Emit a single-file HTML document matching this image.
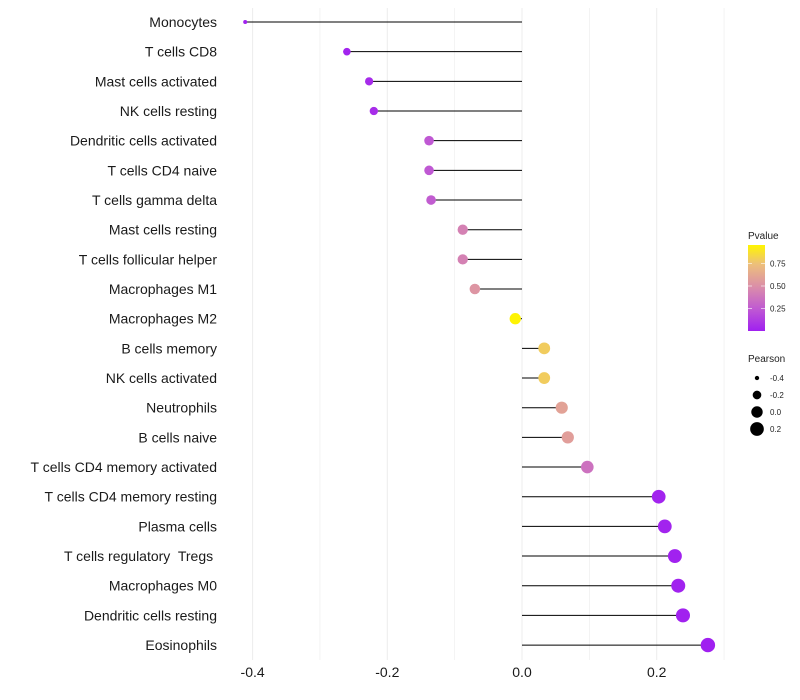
<!DOCTYPE html>
<html><head><meta charset="utf-8"><style>
body{margin:0;background:#fff;font-family:"Liberation Sans",sans-serif}
svg{display:block}
text{white-space:pre}
</style></head><body>
<svg id="chart" width="800" height="700" xmlns="http://www.w3.org/2000/svg">
<defs>
<linearGradient id="pg" x1="0" y1="1" x2="0" y2="0">
<stop offset="0" stop-color="#A020F0"/>
<stop offset="0.26" stop-color="#C05AD2"/>
<stop offset="0.52" stop-color="#DB8FA8"/>
<stop offset="0.78" stop-color="#EDC07A"/>
<stop offset="1" stop-color="#FFF500"/>
</linearGradient>
</defs>
<g id="grid"></g>
<g id="marks"></g>
<g id="labels"></g>
<g id="xticks"></g>
<g>
<text x="748" y="239" font-size="10" fill="#222">Pvalue</text>
<rect x="748" y="245" width="17" height="86" fill="url(#pg)"/>
<g id="cticks"></g>
</g>
<g id="sleg">
<text x="748" y="362" font-size="10" fill="#222">Pearson</text>
</g>
</svg>
<script>
const cells=["Monocytes","T cells CD8","Mast cells activated","NK cells resting","Dendritic cells activated","T cells CD4 naive","T cells gamma delta","Mast cells resting","T cells follicular helper","Macrophages M1","Macrophages M2","B cells memory","NK cells activated","Neutrophils","B cells naive","T cells CD4 memory activated","T cells CD4 memory resting","Plasma cells","T cells regulatory  Tregs ","Macrophages M0","Dendritic cells resting","Eosinophils"];
const pearson=[-0.411,-0.26,-0.227,-0.22,-0.138,-0.138,-0.135,-0.088,-0.088,-0.07,-0.01,0.033,0.033,0.059,0.068,0.097,0.203,0.212,0.227,0.232,0.239,0.276];
const pvalue=[0.01,0.02,0.05,0.06,0.25,0.25,0.27,0.45,0.45,0.55,0.95,0.82,0.82,0.62,0.6,0.38,0.02,0.02,0.01,0.01,0.01,0.0];
const xTicks=[-0.4,-0.2,0.0,0.2];
const cTicks=[0.25,0.5,0.75];
const sTicks=[-0.4,-0.2,0.0,0.2];
const NS="http://www.w3.org/2000/svg";
const X=v=>522+v*673.5;
const Y=i=>22+i*29.67;
const CY=p=>331-p*90;
function R(v){const t=(v+0.411)/0.687;return Math.sqrt(4+t*(52-4));}
const stops=[[0,[160,32,240]],[0.26,[192,90,210]],[0.52,[219,143,168]],[0.78,[237,192,122]],[0.955,[255,245,0]]];
function col(p){for(let k=1;k<stops.length;k++){if(p<=stops[k][0]||k==stops.length-1){const a=stops[k-1],b=stops[k];let t=Math.min(1,Math.max(0,(p-a[0])/(b[0]-a[0])));const c=a[1].map((x,j)=>Math.round(x+(b[1][j]-x)*t));return`rgb(${c})`;}}}
function mk(tag,attrs,parent){const e=document.createElementNS(NS,tag);for(const k in attrs)e.setAttribute(k,attrs[k]);parent.appendChild(e);return e;}
const grid=document.getElementById('grid');
for(let v=-0.4;v<=0.31;v+=0.1){const g=mk('line',{x1:X(v),x2:X(v),y1:8,y2:660,stroke:'#ececec','stroke-width':Math.abs(Math.round(v*10))%2==0?1:0.6},grid);

}
const marks=document.getElementById('marks'),labels=document.getElementById('labels');
cells.forEach((c,i)=>{
const l=mk('line',{x1:X(0),x2:X(pearson[i]),y1:Y(i),y2:Y(i),stroke:'#000','stroke-width':1},marks);


const d=mk('circle',{cx:X(pearson[i]),cy:Y(i),r:R(pearson[i]),fill:col(pvalue[i])},marks);


const t=mk('text',{x:217,y:Y(i)+5,'text-anchor':'end','font-size':14,fill:'#1a1a1a'},labels);t.textContent=c;


});
const xt=document.getElementById('xticks');
xTicks.forEach(v=>{const t=mk('text',{x:X(v),y:677,'text-anchor':'middle','font-size':14,fill:'#1a1a1a'},xt);t.textContent=v.toFixed(1);

});
const ct=document.getElementById('cticks');
cTicks.forEach(p=>{mk('line',{x1:748,x2:752,y1:CY(p),y2:CY(p),stroke:'#fff','stroke-width':0.6},ct);mk('line',{x1:761,x2:765,y1:CY(p),y2:CY(p),stroke:'#fff','stroke-width':0.6},ct);
const t=mk('text',{x:770,y:CY(p)+3,'font-size':8,fill:'#222'},ct);t.textContent=p.toFixed(2);

});
const sl=document.getElementById('sleg');
sTicks.forEach((v,k)=>{const y=378+k*17;const c=mk('circle',{cx:757,cy:y,r:R(v),fill:'#000'},sl);


const t=mk('text',{x:770,y:y+3,'font-size':8,fill:'#222'},sl);t.textContent=v.toFixed(1);

});
</script>
</body></html>
